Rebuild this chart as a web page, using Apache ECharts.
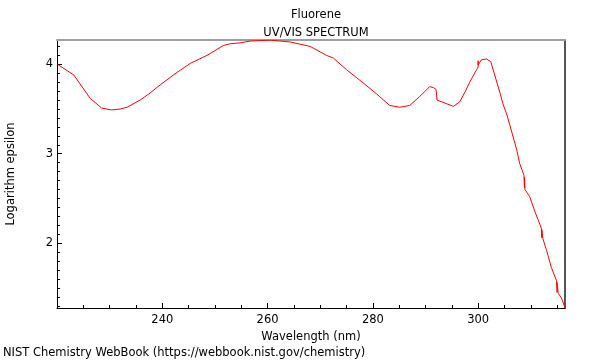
<!DOCTYPE html>
<html><head><meta charset="utf-8">
<script src="https://cdn.jsdelivr.net/npm/echarts@6/dist/echarts.min.js"></script>
<style>html,body{margin:0;padding:0;background:#fff}#c{width:600px;height:360px}</style>
</head><body><div id="c"></div>
<script>
const wavelengths = [220.1,223.2,226.3,228.5,230.4,232.0,233.3,235.8,237.7,239.6,242.1,245.3,248.5,251.6,252.9,254.8,256.7,260.5,264.3,268.1,271.2,272.5,275.0,278.2,280.7,283.2,285.1,287.0,288.9,290.8,291.5,292.0,292.2,295.3,296.5,297.5,298.4,299.7,300.0,300.0,300.0,300.6,301.6,302.4,302.7,304.1,304.7,305.5,307.3,307.9,308.7,308.8,308.8,308.9,309.1,309.8,310.8,312.0,312.1,312.1,312.3,313.0,313.9,314.9,315.0,315.0,315.2,315.8,316.5];
const logEps = [4.00,3.88,3.62,3.51,3.49,3.50,3.52,3.60,3.68,3.77,3.88,4.01,4.10,4.21,4.23,4.24,4.26,4.27,4.25,4.20,4.10,4.07,3.94,3.79,3.67,3.54,3.52,3.54,3.64,3.75,3.74,3.72,3.60,3.53,3.58,3.69,3.80,3.94,3.97,4.04,3.99,4.05,4.06,4.03,3.97,3.69,3.56,3.43,3.05,2.89,2.76,2.62,2.74,2.60,2.59,2.52,2.35,2.17,2.06,2.15,2.05,1.92,1.73,1.58,1.45,1.56,1.44,1.39,1.28];
const xMajorTicks = [240,260,280,300];
const xMinorTicks = [225,230,235,240,245,250,255,260,265,270,275,280,285,290,295,300,305,310,315];
const yMajorTicks = [2,3,4];
const yMinorTicks = [1.3,1.4,1.5,1.6,1.7,1.8,1.9,2.0,2.1,2.2,2.3,2.4,2.5,2.6,2.7,2.8,2.9,3.0,3.1,3.2,3.3,3.4,3.5,3.6,3.7,3.8,3.9,4.0,4.1,4.2];
const xMin = 220.0, xMax = 316.5, yMin = 1.275, yMax = 4.272;

const font = 'DejaVu Sans';
const fs = 11.5;
const chart = echarts.init(document.getElementById('c'));
const baseX = {type:'value', min:xMin, max:xMax, splitLine:{show:false}};
const baseY = {type:'value', min:yMin, max:yMax, splitLine:{show:false}};
chart.setOption({
  animation:false,
  textStyle:{fontFamily:font},
  title:[
    {text:'Fluorene', left:311, top:4, textAlign:'center', textStyle:{fontSize:fs, fontWeight:'normal', color:'#000', fontFamily:font}},
    {text:'UV/VIS SPECTRUM', left:311, top:22, textAlign:'center', textStyle:{fontSize:fs, fontWeight:'normal', color:'#000', fontFamily:font}}
  ],
  grid:{left:57, right:35, top:40, bottom:52, outerBoundsMode:'none', containLabel:false},
  xAxis:[
    Object.assign({}, baseX, {position:'bottom', name:'Wavelength (nm)', nameLocation:'middle', nameGap:20,
      nameTextStyle:{fontSize:fs, color:'#000', fontFamily:font},
      axisLine:{lineStyle:{color:'#000', width:1}},
      axisTick:{inside:true, length:5, customValues:xMajorTicks, lineStyle:{color:'#000'}},
      axisLabel:{customValues:xMajorTicks, fontSize:fs, color:'#000', margin:6, fontFamily:font}}),
    Object.assign({}, baseX, {position:'bottom',
      axisLine:{show:false},
      axisTick:{inside:true, length:3, customValues:xMinorTicks, lineStyle:{color:'#000'}},
      axisLabel:{show:false}}),
    Object.assign({}, baseX, {position:'top',
      axisLine:{lineStyle:{color:'#a0a0a0', width:2}},
      axisTick:{show:false}, axisLabel:{show:false}})
  ],
  yAxis:[
    Object.assign({}, baseY, {position:'left', name:'Logarithm epsilon', nameLocation:'middle', nameGap:40,
      nameTextStyle:{fontSize:fs, color:'#000', fontFamily:font},
      axisLine:{lineStyle:{color:'#000', width:1}},
      axisTick:{inside:true, length:5, customValues:yMajorTicks, lineStyle:{color:'#000'}},
      axisLabel:{customValues:yMajorTicks, fontSize:fs, color:'#000', margin:4, fontFamily:font}}),
    Object.assign({}, baseY, {position:'left',
      axisLine:{show:false},
      axisTick:{inside:true, length:3, customValues:yMinorTicks, lineStyle:{color:'#000'}},
      axisLabel:{show:false}}),
    Object.assign({}, baseY, {position:'right',
      axisLine:{lineStyle:{color:'#555', width:2}},
      axisTick:{show:false}, axisLabel:{show:false}})
  ],
  graphic:[{type:'text', left:3, top:347, style:{text:'NIST Chemistry WebBook (https://webbook.nist.gov/chemistry)', fontSize:fs, fill:'#000', fontFamily:font}}],
  series:[{type:'line', xAxisIndex:0, yAxisIndex:0, showSymbol:false, symbol:'none',
    data: wavelengths.map((w,i)=>[w, logEps[i]]),
    lineStyle:{color:'#ff0000', width:1}, clip:true}]
});
</script></body></html>
